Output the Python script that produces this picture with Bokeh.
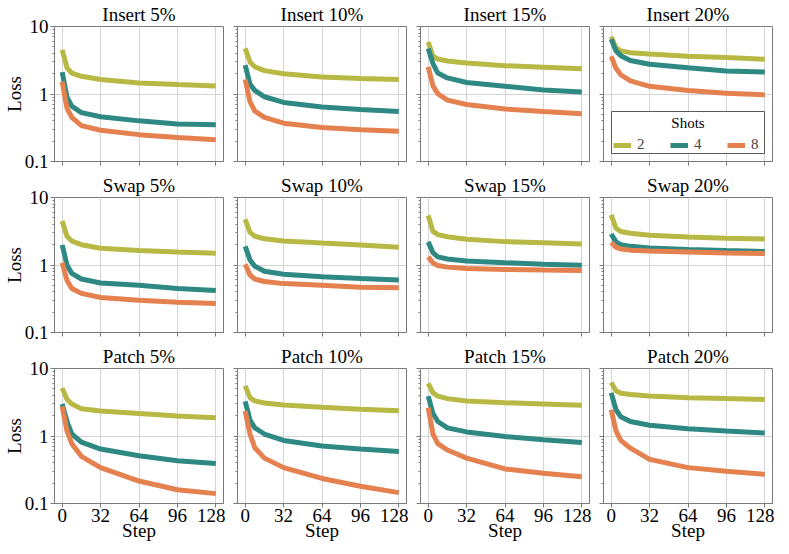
from bokeh.plotting import figure
from bokeh.layouts import gridplot
from bokeh.models import FixedTicker, Legend, LegendItem, Label, BoxAnnotation
from bokeh.embed import file_html
from bokeh.resources import INLINE

STEPS = [0, 4, 8, 16, 32, 64, 96, 128]
SHOTS = ["2", "4", "8"]
METHODS = ["Insert", "Swap", "Patch"]
RATES = ["5%", "10%", "15%", "20%"]
X_TICKS = [0, 32, 64, 96, 128]
Y_TICKS = [0.1, 1, 10]
Y_MINOR = [0.2, 0.3, 0.4, 0.5, 0.6, 0.7, 0.8, 0.9, 2, 3, 4, 5, 6, 7, 8, 9]

insert5_2 = [4.50, 2.45, 2.04, 1.83, 1.64, 1.46, 1.38, 1.31]
insert5_4 = [2.11, 0.90, 0.66, 0.53, 0.46, 0.40, 0.36, 0.35]
insert5_8 = [1.52, 0.62, 0.45, 0.34, 0.29, 0.25, 0.227, 0.21]

insert10_2 = [4.74, 2.98, 2.53, 2.22, 2.00, 1.79, 1.70, 1.64]
insert10_4 = [2.67, 1.40, 1.13, 0.91, 0.75, 0.64, 0.59, 0.55]
insert10_8 = [1.64, 0.77, 0.56, 0.45, 0.37, 0.32, 0.295, 0.28]

insert15_2 = [5.89, 3.62, 3.30, 3.08, 2.88, 2.62, 2.50, 2.37]
insert15_4 = [4.74, 2.82, 2.04, 1.73, 1.48, 1.30, 1.15, 1.07]
insert15_8 = [2.53, 1.32, 1.01, 0.81, 0.70, 0.60, 0.55, 0.51]

insert20_2 = [7.08, 4.84, 4.35, 4.10, 3.90, 3.62, 3.46, 3.28]
insert20_4 = [6.49, 4.35, 3.70, 3.14, 2.76, 2.45, 2.20, 2.11]
insert20_8 = [3.62, 2.40, 1.93, 1.56, 1.30, 1.13, 1.03, 0.97]

swap5_2 = [4.50, 2.67, 2.27, 2.00, 1.77, 1.64, 1.56, 1.49]
swap5_4 = [1.98, 1.00, 0.75, 0.62, 0.54, 0.50, 0.45, 0.42]
swap5_8 = [1.08, 0.59, 0.45, 0.38, 0.33, 0.30, 0.28, 0.27]

swap10_2 = [4.74, 3.04, 2.67, 2.45, 2.27, 2.11, 1.98, 1.83]
swap10_4 = [1.89, 1.19, 0.96, 0.81, 0.73, 0.67, 0.63, 0.60]
swap10_8 = [1.03, 0.71, 0.62, 0.57, 0.53, 0.50, 0.47, 0.46]

swap15_2 = [5.40, 3.14, 2.82, 2.62, 2.40, 2.22, 2.13, 2.04]
swap15_4 = [2.20, 1.52, 1.32, 1.23, 1.15, 1.08, 1.03, 0.99]
swap15_8 = [1.32, 1.07, 0.98, 0.93, 0.89, 0.86, 0.84, 0.83]

swap20_2 = [5.52, 3.50, 3.14, 2.95, 2.76, 2.59, 2.50, 2.43]
swap20_4 = [2.88, 2.20, 2.00, 1.89, 1.79, 1.70, 1.64, 1.59]
swap20_8 = [2.15, 1.83, 1.73, 1.66, 1.61, 1.56, 1.51, 1.48]

patch5_2 = [5.12, 3.50, 2.98, 2.53, 2.35, 2.15, 1.98, 1.87]
patch5_4 = [2.98, 1.64, 1.07, 0.81, 0.64, 0.51, 0.43, 0.39]
patch5_8 = [2.73, 1.19, 0.77, 0.50, 0.34, 0.215, 0.16, 0.14]

patch10_2 = [5.52, 3.70, 3.31, 3.08, 2.88, 2.67, 2.50, 2.37]
patch10_4 = [3.25, 1.73, 1.32, 1.07, 0.86, 0.71, 0.64, 0.59]
patch10_8 = [2.35, 1.07, 0.67, 0.47, 0.34, 0.235, 0.18, 0.145]

patch15_2 = [6.00, 4.35, 3.90, 3.58, 3.31, 3.11, 2.98, 2.85]
patch15_4 = [3.90, 2.15, 1.64, 1.32, 1.15, 0.98, 0.88, 0.80]
patch15_8 = [2.62, 1.07, 0.77, 0.62, 0.47, 0.325, 0.28, 0.25]

patch20_2 = [6.20, 4.69, 4.30, 4.12, 3.90, 3.70, 3.58, 3.47]
patch20_4 = [4.35, 2.45, 1.93, 1.64, 1.44, 1.28, 1.19, 1.11]
patch20_8 = [2.45, 1.19, 0.86, 0.66, 0.45, 0.34, 0.30, 0.27]

PANELS = [
    [(insert5_2, insert5_4, insert5_8), (insert10_2, insert10_4, insert10_8),
     (insert15_2, insert15_4, insert15_8), (insert20_2, insert20_4, insert20_8)],
    [(swap5_2, swap5_4, swap5_8), (swap10_2, swap10_4, swap10_8),
     (swap15_2, swap15_4, swap15_8), (swap20_2, swap20_4, swap20_8)],
    [(patch5_2, patch5_4, patch5_8), (patch10_2, patch10_4, patch10_8),
     (patch15_2, patch15_4, patch15_8), (patch20_2, patch20_4, patch20_8)],
]

COLORS = ["#b7b944", "#2f8983", "#e5804f"]
FONT = "Liberation Serif"
FRAME = "#7a7a7a"
GRID = "#d4d4d4"
FS = "19px"
FW, FH = 169, 135
XR = (-6.4, 134.4)
YR = (0.1, 10)
PX_X = (XR[1] - XR[0]) / FW           # data units per pixel (x)
DEC = FH / 2.0                        # pixels per decade (y)
XC = (XR[0] + XR[1]) / 2.0


def y_above_bottom(px):
    return YR[0] * 10 ** (px / DEC)


def x_from_left(px):
    return XR[0] + px * PX_X


figs = []
for r in range(3):
    for c in range(4):
        p = figure(frame_width=FW, frame_height=FH, y_axis_type="log",
                   x_range=XR, y_range=YR,
                   title=f"{METHODS[r]} {RATES[c]}",
                   output_backend="svg", toolbar_location=None,
                   min_border_left=12, min_border_right=2,
                   min_border_top=0, min_border_bottom=10)
        p.title.text_font = FONT
        p.title.text_font_size = FS
        p.title.text_font_style = "normal"
        p.title.text_color = "black"
        p.title.align = "center"
        p.title.offset = 0
        p.title.standoff = 3

        p.outline_line_color = FRAME
        p.outline_line_width = 1
        p.background_fill_color = "white"
        p.border_fill_color = "white"

        p.xaxis.ticker = FixedTicker(ticks=X_TICKS)
        p.yaxis.ticker = FixedTicker(ticks=Y_TICKS, minor_ticks=Y_MINOR)
        p.xgrid.ticker = FixedTicker(ticks=X_TICKS)
        for g in (p.xgrid, p.ygrid):
            g.grid_line_color = GRID
            g.grid_line_width = 1
        for ax in (p.xaxis[0], p.yaxis[0]):
            ax.axis_line_color = FRAME
            ax.major_tick_line_color = FRAME
            ax.minor_tick_line_color = FRAME
            ax.major_tick_out = 4
            ax.major_tick_in = 0
            ax.minor_tick_out = 2
            ax.minor_tick_in = 0
            ax.major_label_text_font = FONT
            ax.major_label_text_font_size = FS
            ax.major_label_text_color = "black"
            ax.major_label_standoff = 2
            ax.axis_label_text_font = FONT
            ax.axis_label_text_font_size = FS
            ax.axis_label_text_font_style = "normal"
            ax.axis_label_text_color = "black"
        p.xaxis.minor_tick_line_color = None
        p.yaxis.major_label_overrides = {0.1: "0.1", 1: "1", 10: "10"}

        if c != 0:
            p.yaxis.major_label_text_color = None
            p.yaxis.major_label_standoff = 0
        else:
            p.yaxis.axis_label = "Loss"
            p.yaxis.axis_label_standoff = -3
        if r != 2:
            p.xaxis.major_label_text_color = None
            p.xaxis.major_label_standoff = 0
        else:
            p.xaxis.axis_label = "Step"
            p.xaxis.axis_label_standoff = -5
            p.xaxis.major_label_standoff = 1

        if r == 0 and c == 3:
            # legend frame (white box drawn under the curves, above the grid)
            p.add_layout(BoxAnnotation(left=x_from_left(8), right=x_from_left(FW - 8),
                                       bottom=y_above_bottom(8), top=y_above_bottom(50),
                                       fill_color="white", fill_alpha=1.0,
                                       line_color="#5a5a5a", line_width=1, line_alpha=1.0,
                                       level="underlay"))

        rends = []
        for k, vals in enumerate(PANELS[r][c]):
            rl = p.line(STEPS, vals, line_color=COLORS[k], line_width=5)
            rends.append(rl)

        if r == 0 and c == 3:
            leg = Legend(items=[LegendItem(label=SHOTS[k], renderers=[rends[k]]) for k in range(3)],
                         orientation="horizontal", location=(10, 8),
                         title="Shots")
            leg.title_text_font = FONT
            leg.title_text_font_size = "15px"
            leg.title_text_font_style = "normal"
            leg.title_text_color = None
            leg.title_standoff = 0
            leg.label_text_font = FONT
            leg.label_text_font_size = "15px"
            leg.label_width = 8
            leg.label_height = 12
            leg.glyph_width = 18
            leg.glyph_height = 12
            leg.label_standoff = 6
            leg.spacing = 25
            leg.padding = 5
            leg.margin = 0
            leg.border_line_color = None
            leg.background_fill_color = None
            leg.background_fill_alpha = 0.0
            p.add_layout(leg)
            p.add_layout(Label(x=XC, y=y_above_bottom(39), text="Shots",
                               text_align="center", text_baseline="middle",
                               text_font=FONT, text_font_size="15px", text_color="black"))
        figs.append(p)

grid = gridplot(figs, ncols=4, toolbar_location=None)
open("out.html", "w").write(file_html(grid, INLINE))
